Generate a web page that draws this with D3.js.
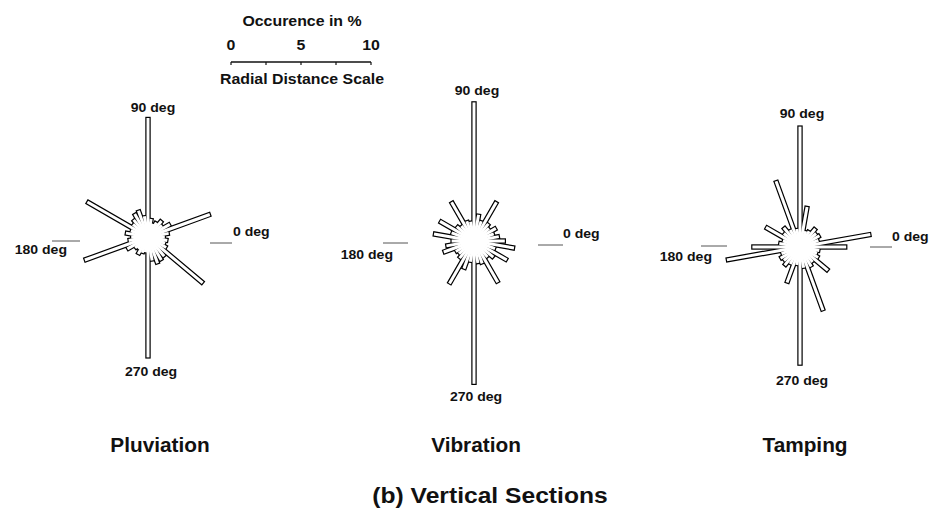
<!DOCTYPE html>
<html>
<head>
<meta charset="utf-8">
<script src="https://cdn.jsdelivr.net/npm/d3@7"></script>
<style>
  body { margin: 0; background: #fff; }
  svg { display: block; }
  text { font-family: "Liberation Sans", Arial, Helvetica, sans-serif; fill: #111; }
</style>
</head>
<body>
<svg id="chart" width="937" height="516"></svg>
<script>
// Direction of each bar: degrees counter-clockwise from 0 deg (east), 10 deg bins
const binAngles = d3.range(0, 360, 10);

// Occurrence (%) of particle orientations per bin
const pluviation = [1.2, 1.5, 4.7, 1.8, 1.3, 1.5, 1.2, 1.0, 1.3, 8.5, 1.5, 2.0,
                    1.9, 1.6, 1.4, 5.0, 1.3, 1.6, 1.2, 1.4, 4.8, 1.7, 1.2, 1.1,
                    1.4, 1.2, 1.1, 8.6, 1.7, 2.0, 1.9, 1.8, 5.1, 1.5, 1.3, 1.4];
const vibration  = [2.2, 1.8, 1.5, 1.8, 1.4, 1.6, 3.2, 1.5, 1.9, 9.9, 1.4, 1.5,
                    3.2, 1.4, 1.6, 2.8, 1.7, 2.9, 1.6, 2.0, 2.3, 1.5, 1.4, 1.6,
                    3.5, 2.1, 1.5, 10.2, 1.6, 1.7, 3.4, 1.5, 1.8, 2.7, 1.6, 2.9];
const tamping    = [3.3, 5.1, 1.4, 1.6, 1.5, 1.7, 1.3, 1.2, 2.9, 8.6, 1.3, 5.0,
                    1.4, 1.8, 1.5, 2.8, 1.3, 1.5, 3.4, 5.3, 1.4, 1.6, 1.5, 1.7,
                    1.4, 2.7, 1.3, 8.4, 1.5, 4.8, 1.6, 1.4, 2.6, 1.5, 1.3, 1.4];

const panelNames = ["Pluviation", "Vibration", "Tamping"];
const directionLabels = ["0 deg", "90 deg", "180 deg", "270 deg"];
const scaleTicks = [0, 2.5, 5, 7.5, 10];
const scaleLabels = [0, 5, 10];
const scaleTitle = "Occurence in %";
const scaleCaption = "Radial Distance Scale";
const figureTitle = "(b) Vertical Sections";

// Placement of each rose and its direction labels
const layout = [
  { cx: 148, cy: 237, l0: [233, 236], l90: [153, 112], l180: [67, 254], l270: [151, 376],
    m0: [210, 232, 243], m180: [52, 80, 241], title: [160, 452] },
  { cx: 474, cy: 241, l0: [563, 238], l90: [477, 95], l180: [393, 259], l270: [476, 401],
    m0: [538, 563, 245], m180: [383, 408, 243], title: [476, 452] },
  { cx: 800, cy: 247, l0: [892, 241], l90: [802, 118], l180: [712, 261], l270: [802, 385],
    m0: [870, 892, 247], m180: [701, 727, 246], title: [805, 452] }
];
const series = [pluviation, vibration, tamping];

const svg = d3.select("#chart");
const radius = d3.scaleLinear().domain([0, 10]).range([0, 140]);
const barWidth = 3;

function label(parent, txt, x, y, size, anchor, stretch) {
  return parent.append("text")
    .attr("transform", `translate(${x},${y}) scale(${stretch},1)`)
    .attr("text-anchor", anchor)
    .attr("font-size", size)
    .attr("font-weight", "bold")
    .text(txt);
}

// Rose diagrams: outlined union of the bars
layout.forEach((p, k) => {
  const bins = binAngles.map((a, i) => ({ a, v: series[k][i] }));
  const g = svg.append("g").attr("transform", `translate(${p.cx},${p.cy})`);
  const bars = () => g.append("g").selectAll("rect").data(bins).join("rect")
    .attr("x", 0)
    .attr("y", -barWidth / 2)
    .attr("width", d => radius(d.v))
    .attr("height", barWidth)
    .attr("transform", d => `rotate(${-d.a})`);
  bars().attr("fill", "#000").attr("stroke", "#000").attr("stroke-width", 2.4);
  bars().attr("fill", "#fff");

  // reference marks beside the horizontal direction labels
  [p.m0, p.m180].forEach(m => {
    svg.append("line").attr("x1", m[0]).attr("x2", m[1]).attr("y1", m[2]).attr("y2", m[2])
      .attr("stroke", "#555").attr("stroke-width", 1);
  });

  label(svg, directionLabels[0], p.l0[0], p.l0[1], 13, "start", 1.08);
  label(svg, directionLabels[1], p.l90[0], p.l90[1], 13, "middle", 1.08);
  label(svg, directionLabels[2], p.l180[0], p.l180[1], 13, "end", 1.08);
  label(svg, directionLabels[3], p.l270[0], p.l270[1], 13, "middle", 1.08);
  label(svg, panelNames[k], p.title[0], p.title[1], 20, "middle", 1.04);
});

// Radial distance scale bar
const sg = svg.append("g").attr("transform", "translate(231,62)");
sg.append("line").attr("x1", radius(0)).attr("x2", radius(10))
  .attr("stroke", "#111").attr("stroke-width", 1.3);
sg.selectAll("line.tick").data(scaleTicks).join("line").attr("class", "tick")
  .attr("x1", d => radius(d)).attr("x2", d => radius(d))
  .attr("y1", 0).attr("y2", 3).attr("stroke", "#111").attr("stroke-width", 1.2);
scaleLabels.forEach(v => label(sg, String(v), radius(v), -12, 15, "middle", 1.06));
label(svg, scaleTitle, 302, 26, 15, "middle", 1.06);
label(svg, scaleCaption, 302, 84, 15, "middle", 1.06);

label(svg, figureTitle, 490, 503, 22, "middle", 1.12);
</script>
</body>
</html>
